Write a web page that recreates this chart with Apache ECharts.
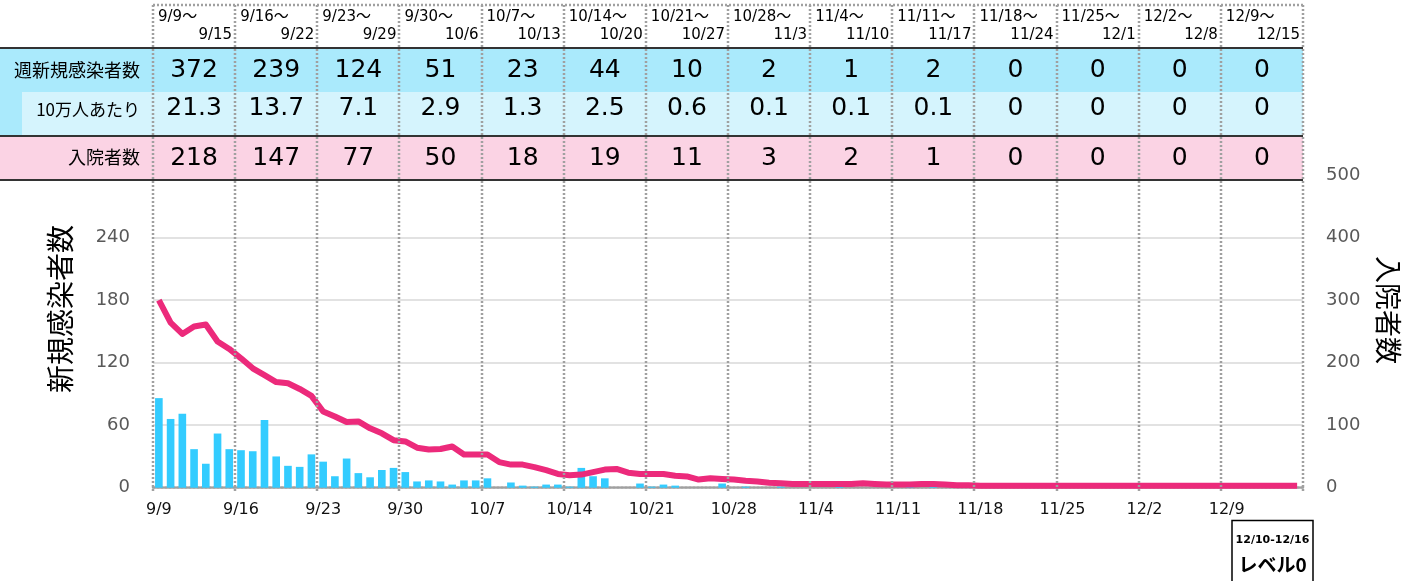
<!DOCTYPE html>
<html>
<head>
<meta charset="utf-8">
<title>新規感染者数・入院者数</title>
<script src="https://cdn.jsdelivr.net/npm/echarts/dist/echarts.min.js"></script>
<style>html,body{margin:0;padding:0;background:#fff;}</style>
</head>
<body>
<div id="main" style="width:1410px;height:581px;"></div>
<script>
// 日別データ 9/9 ～ 12/15 (98日)
var startMonth = 9, startDay = 9, dayCount = 98;
var monthDays = {9: 30, 10: 31, 11: 30, 12: 31};

// 新規感染者数(日別, 左軸)
var dailyCases = [
  86, 66, 71, 37, 23, 52, 37,
  36, 35, 65, 30, 21, 20, 32,
  25, 11, 28, 14, 10, 17, 19,
  15, 6, 7, 6, 3, 7, 7,
  9, 0, 5, 2, 1, 3, 3,
  1, 19, 11, 9, 0, 0, 4,
  1, 3, 2, 0, 0, 0, 4,
  0, 1, 0, 0, 1, 0, 0,
  0, 0, 1, 0, 0, 0, 0,
  0, 1, 0, 1, 0, 0, 0,
  0, 0, 0, 0, 0, 0, 0,
  0, 0, 0, 0, 0, 0, 0,
  0, 0, 0, 0, 0, 0, 0,
  0, 0, 0, 0, 0, 0, 0
];
// 入院者数(日別, 右軸)
var inpatients = [
  300, 264, 246, 258, 261, 234, 222,
  207, 191, 180, 169, 167, 158, 147,
  122, 114, 105, 106, 95, 87, 76,
  74, 64, 61, 62, 66, 53, 53,
  53, 41, 37, 37, 33, 28, 22,
  20, 21, 25, 29, 30, 24, 22,
  22, 22, 19, 18, 13, 15, 14,
  13, 11, 10, 8, 7, 6, 6,
  6, 6, 6, 6, 7, 6, 5,
  5, 5, 6, 6, 5, 4, 4,
  3, 3, 3, 3, 3, 3, 3,
  3, 3, 3, 3, 3, 3, 3,
  3, 3, 3, 3, 3, 3, 3,
  3, 3, 3, 3, 3, 3, 3
];

// 週別の表
var weekFrom = ['9/9～', '9/16～', '9/23～', '9/30～', '10/7～', '10/14～', '10/21～', '10/28～', '11/4～', '11/11～', '11/18～', '11/25～', '12/2～', '12/9～'];
var weekTo = ['9/15', '9/22', '9/29', '10/6', '10/13', '10/20', '10/27', '11/3', '11/10', '11/17', '11/24', '12/1', '12/8', '12/15'];
var weeklyCases = ['372', '239', '124', '51', '23', '44', '10', '2', '1', '2', '0', '0', '0', '0'];
var per100k = ['21.3', '13.7', '7.1', '2.9', '1.3', '2.5', '0.6', '0.1', '0.1', '0.1', '0', '0', '0', '0'];
var weeklyHosp = ['218', '147', '77', '50', '18', '19', '11', '3', '2', '1', '0', '0', '0', '0'];
var rowLabels = ['週新規感染者数', '10万人あたり', '入院者数'];

// 軸目盛
var leftTicks = {min: 0, max: 300, interval: 60};
var rightTicks = {min: 0, max: 500, interval: 100};

// 日付ラベル
var dates = [];
var m = startMonth, d = startDay;
for (var i = 0; i < dayCount; i++) {
  dates.push(m + '/' + d);
  d++;
  if (d > monthDays[m]) { d = 1; m++; }
}

var FONT_JP = '"Noto Sans CJK JP", sans-serif';
var FONT_NUM = '"DejaVu Sans", "Noto Sans CJK JP", sans-serif';
var DOT = '#a0a0a0';

var myChart = echarts.init(document.getElementById('main'));

var option = {
  animation: false,
  grid: {left: 153, right: 107, top: 175.2, bottom: 93.3},
  xAxis: {
    type: 'category',
    data: dates,
    boundaryGap: true,
    axisLine: {lineStyle: {color: DOT, width: 2.5, type: [2, 2]}},
    axisTick: {show: false},
    axisLabel: {interval: 6, margin: 14, color: '#111', fontSize: 16, fontFamily: FONT_NUM},
    splitLine: {show: false}
  },
  yAxis: [{
    type: 'value',
    min: leftTicks.min, max: leftTicks.max, interval: leftTicks.interval,
    axisLine: {show: false},
    axisTick: {show: false},
    axisLabel: {
      margin: 23, color: '#595959', fontSize: 18, fontFamily: FONT_NUM,
      formatter: function (v) { return v === leftTicks.max ? '' : v; }
    },
    splitLine: {lineStyle: {color: '#d9d9d9', width: 1.5}}
  }, {
    type: 'value',
    min: rightTicks.min, max: rightTicks.max, interval: rightTicks.interval,
    axisLine: {show: false},
    axisTick: {show: false},
    axisLabel: {margin: 23, color: '#595959', fontSize: 18, fontFamily: FONT_NUM},
    splitLine: {show: false}
  }],
  series: [{
    name: '新規感染者数',
    type: 'bar',
    yAxisIndex: 0,
    barWidth: '65%',
    itemStyle: {color: '#33ccff'},
    data: dailyCases,
    z: 2
  }, {
    name: '入院者数',
    type: 'line',
    yAxisIndex: 1,
    showSymbol: false,
    lineStyle: {color: '#ec2a7b', width: 6, join: 'round'},
    data: inpatients,
    z: 3
  }]
};
myChart.setOption(option);

// 表と週の区切り線 (x軸の位置から求める)
var c0 = myChart.convertToPixel({xAxisIndex: 0}, dates[0]);
var c1 = myChart.convertToPixel({xAxisIndex: 0}, dates[1]);
var band = c1 - c0;
function edge(idx) {
  return c0 - band / 2 + band * idx;
}
var xEnd = edge(dayCount);

var g = [];
function txt(x, y, s, font, align, color) {
  g.push({
    type: 'text', x: x, y: y, z: 110, silent: true,
    style: {text: s, font: font, fill: color || '#000',
      textAlign: align, align: align, textVerticalAlign: 'middle', verticalAlign: 'middle'}
  });
}
function rect(x, y, w, h, fill) {
  g.push({type: 'rect', z: 100, silent: true, shape: {x: x, y: y, width: w, height: h}, style: {fill: fill}});
}
function hline(y, x1, x2) {
  g.push({type: 'line', z: 105, silent: true, shape: {x1: x1, y1: y, x2: x2, y2: y}, style: {stroke: '#333', lineWidth: 2}});
}

// 行の背景
rect(0, 48, xEnd, 44, '#aaeafc');
rect(0, 92, xEnd, 44, '#aaeafc');
rect(22, 92, xEnd - 22, 44, '#d5f4fd');
rect(0, 136, xEnd, 44, '#fbd3e4');
hline(48, 0, xEnd);
hline(136, 0, xEnd);
hline(180, 0, xEnd);

// 行見出し
txt(140, 70, rowLabels[0], '18px ' + FONT_JP, 'right');
txt(140, 110, rowLabels[1], '17px ' + FONT_JP, 'right');
txt(140, 157, rowLabels[2], '18px ' + FONT_JP, 'right');

// 週ごとの値
for (var w = 0; w < weekFrom.length; w++) {
  var xl = edge(w * 7), xr = edge(w * 7 + 7), xc = (xl + xr) / 2;
  txt(xl + 5, 17, weekFrom[w], '15px ' + FONT_NUM, 'left');
  txt(xr - 3, 35, weekTo[w], '15px ' + FONT_NUM, 'right');
  txt(xc, 70, weeklyCases[w], '25px ' + FONT_NUM, 'center');
  txt(xc, 108, per100k[w], '25px ' + FONT_NUM, 'center');
  txt(xc, 158, weeklyHosp[w], '25px ' + FONT_NUM, 'center');
}

// 週の区切り (点線)
for (var k = 0; k <= weekFrom.length; k++) {
  var x = Math.round(edge(k * 7));
  g.push({type: 'line', z: 108, silent: true, shape: {x1: x, y1: 5, x2: x, y2: 491},
    style: {stroke: DOT, lineWidth: 2.5, lineDash: [2, 2]}});
}
g.push({type: 'line', z: 108, silent: true, shape: {x1: edge(0), y1: 5, x2: xEnd, y2: 5},
  style: {stroke: DOT, lineWidth: 2.5, lineDash: [2, 2]}});

// 軸タイトル
g.push({type: 'text', x: 60, y: 309, rotation: Math.PI / 2, z: 110, silent: true,
  style: {text: '新規感染者数', font: '28px ' + FONT_JP, fill: '#000',
    textAlign: 'center', align: 'center', textVerticalAlign: 'middle', verticalAlign: 'middle'}});
g.push({type: 'text', x: 1388, y: 310, rotation: -Math.PI / 2, z: 110, silent: true,
  style: {text: '入院者数', font: '27px ' + FONT_JP, fill: '#000',
    textAlign: 'center', align: 'center', textVerticalAlign: 'middle', verticalAlign: 'middle'}});

// レベル表示
g.push({type: 'rect', z: 100, silent: true, shape: {x: 1232, y: 520.5, width: 81, height: 70},
  style: {fill: '#fff', stroke: '#000', lineWidth: 1.5}});
txt(1272.5, 540, '12/10-12/16', 'bold 11px ' + FONT_NUM, 'center');
txt(1272.5, 565, 'レベル0', 'bold 19px ' + FONT_JP, 'center');

myChart.setOption({graphic: {elements: g}});
</script>
</body>
</html>
